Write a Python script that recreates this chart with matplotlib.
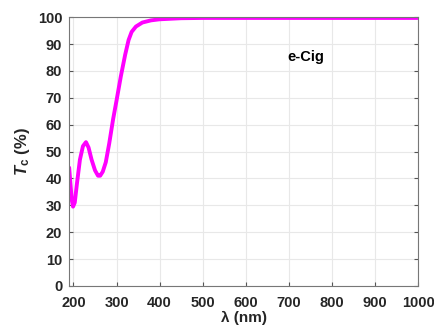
import numpy as np
import matplotlib.pyplot as plt

plt.rcParams['font.family'] = ['Liberation Sans', 'DejaVu Sans']
plt.rcParams['mathtext.fontset'] = 'custom'
plt.rcParams['mathtext.rm'] = 'Liberation Sans:bold'
plt.rcParams['mathtext.it'] = 'Liberation Sans:bold:italic'
plt.rcParams['mathtext.bf'] = 'Liberation Sans:bold'

# transmittance
wavelength = [190, 193, 196, 199, 203, 208, 215, 222, 229, 235, 242, 250, 257, 262,
              268, 275, 283, 292, 300, 310, 320, 328, 335, 345, 360, 380, 400, 450,
              500, 600, 800, 1000]
transmit = [44, 38, 32, 29.5, 31, 38, 47, 52, 53.5, 51.5, 47, 43, 41, 41,
            42.5, 46, 53, 62, 69, 78, 86, 91.5, 94.5, 96.5, 98, 98.8, 99.2, 99.6,
            99.7, 99.7, 99.7, 99.7]
xticks = [200, 300, 400, 500, 600, 700, 800, 900, 1000]
yticks = list(range(0, 101, 10))

fig = plt.figure(figsize=(4.35, 3.36), dpi=100)
ax = fig.add_axes([0.159, 0.149, 0.802, 0.800])
ax.plot(wavelength, transmit, color='#ff00ff', lw=2.8, solid_capstyle='round')

ax.set_xlim(190, 1000)
ax.set_ylim(0, 100)
ax.set_xticks(xticks)
ax.set_yticks(yticks)
ax.grid(True, color='#e8e8e8', lw=0.8)
ax.set_axisbelow(True)
ax.tick_params(direction='in', length=3, color='#555555', top=False, right=True,
               labelsize=10.5, labelcolor='#262626')
ax.tick_params(axis='x', pad=7)
ax.tick_params(axis='y', pad=5)
for lab in ax.get_xticklabels() + ax.get_yticklabels():
    lab.set_fontweight('bold')
for s in ax.spines.values():
    s.set_color('#777777')
    s.set_linewidth(0.8)

ax.set_xlabel('λ (nm)', fontsize=11, fontweight='bold', color='#262626', labelpad=1)
ax.set_ylabel(r'$T_{\mathrm{c}}$ (%)', fontsize=12, fontweight='bold', color='#262626', labelpad=4)
ax.text(740, 85, 'e-Cig', fontsize=10.5, fontweight='bold', ha='center', va='center', color='black')

fig.savefig('out.png', dpi=100)
